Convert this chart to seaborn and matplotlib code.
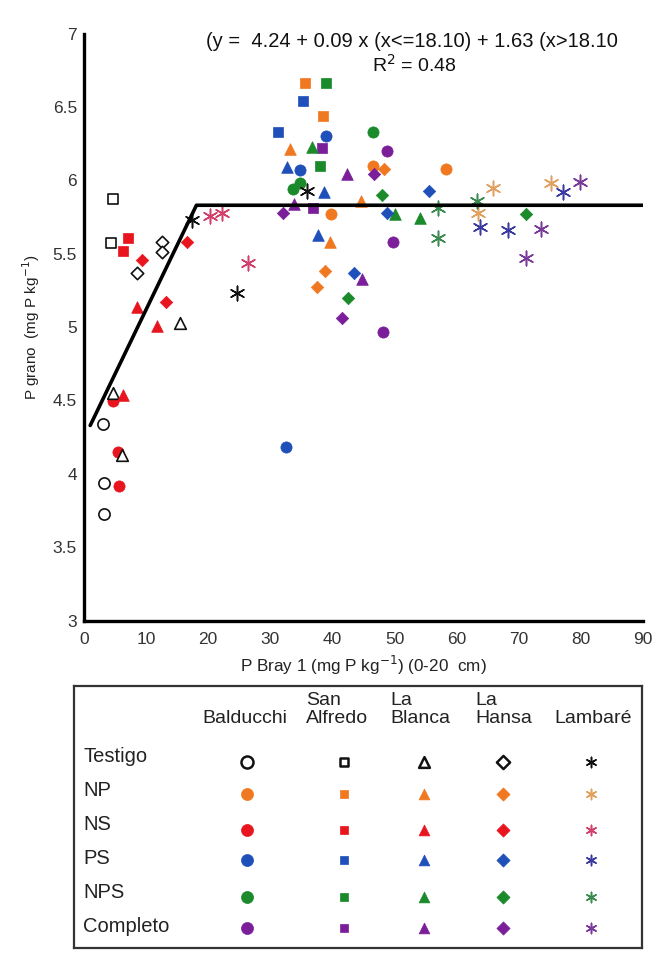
import matplotlib
matplotlib.use("Agg")
import matplotlib.pyplot as plt
import seaborn as sns
import pandas as pd

sns.set_theme(style="white")
plt.rcParams['font.family'] = ['Liberation Sans', 'DejaVu Sans']

# ---------------- data ----------------
sites = ["Balducchi", "San Alfredo", "La Blanca", "La Hansa", "Lambaré"]
site_headers = ["Balducchi", "San\nAlfredo", "La\nBlanca", "La\nHansa", "Lambaré"]
treatments = ["Testigo", "NP", "NS", "PS", "NPS", "Completo"]

bal_trt = ["Testigo"]*3 + ["NP"]*3 + ["NS"]*3 + ["PS"]*3 + ["NPS"]*3 + ["Completo"]*3
bal_x = [3.1, 3.2, 3.2, 39.8, 46.5, 58.3, 4.7, 5.5, 5.6, 39.0, 34.8, 32.5, 33.7, 34.8, 46.5, 48.8, 49.8, 48.1]
bal_y = [4.34, 3.94, 3.73, 5.77, 6.10, 6.08, 4.50, 4.15, 3.92, 6.30, 6.07, 4.18, 5.94, 5.98, 6.33, 6.20, 5.58, 4.97]

sal_trt = ["Testigo"]*2 + ["NP"]*2 + ["NS"]*2 + ["PS"]*2 + ["NPS"]*2 + ["Completo"]*2
sal_x = [4.7, 4.3, 35.6, 38.5, 7.1, 6.3, 35.3, 31.2, 39.0, 38.0, 38.3, 36.9]
sal_y = [5.87, 5.57, 6.66, 6.44, 5.61, 5.52, 6.54, 6.33, 6.66, 6.10, 6.22, 5.81]

lbl_trt = ["Testigo"]*3 + ["NP"]*3 + ["NS"]*3 + ["PS"]*3 + ["NPS"]*3 + ["Completo"]*3
lbl_x = [15.5, 4.7, 6.1, 33.2, 44.6, 39.6, 8.5, 11.8, 6.3, 32.7, 38.6, 37.7, 36.7, 50.1, 54.1, 42.3, 33.8, 44.8]
lbl_y = [5.03, 4.55, 4.13, 6.21, 5.86, 5.58, 5.14, 5.01, 4.54, 6.09, 5.92, 5.63, 6.23, 5.77, 5.74, 6.04, 5.84, 5.33]

lha_trt = ["Testigo"]*3 + ["NP"]*3 + ["NS"]*3 + ["PS"]*3 + ["NPS"]*3 + ["Completo"]*3
lha_x = [12.6, 12.6, 8.5, 48.3, 38.8, 37.5, 9.3, 13.2, 16.6, 55.6, 48.8, 43.5, 48.0, 71.2, 42.5, 46.7, 32.0, 41.5]
lha_y = [5.58, 5.51, 5.37, 6.08, 5.38, 5.27, 5.46, 5.17, 5.58, 5.93, 5.78, 5.37, 5.90, 5.77, 5.20, 6.04, 5.78, 5.06]

lam_trt = ["Testigo"]*3 + ["NP"]*3 + ["NS"]*3 + ["PS"]*3 + ["NPS"]*3 + ["Completo"]*3
lam_x = [35.9, 24.6, 17.4, 65.9, 75.2, 63.5, 20.3, 22.2, 26.4, 77.1, 63.8, 68.2, 63.3, 57.0, 57.0, 79.9, 73.6, 71.2]
lam_y = [5.93, 5.23, 5.73, 5.95, 5.98, 5.78, 5.76, 5.78, 5.44, 5.92, 5.68, 5.66, 5.86, 5.81, 5.61, 5.99, 5.67, 5.47]

fit_x = [1.0, 18.1, 90.0]
fit_y = [4.33, 5.83, 5.83]
equation = "(y =  4.24 + 0.09 x (x<=18.10) + 1.63 (x>18.10"
r2_text = "R$^2$ = 0.48"

x_ticks = [0, 10, 20, 30, 40, 50, 60, 70, 80, 90]
y_ticks = [3, 3.5, 4, 4.5, 5, 5.5, 6, 6.5, 7]
y_tick_labels = ["3", "3.5", "4", "4.5", "5", "5.5", "6", "6.5", "7"]

# ---------------- styles ----------------
site_marker = {"Balducchi": "o", "San Alfredo": "s", "La Blanca": "^",
               "La Hansa": "D", "Lambaré": (6, 2, 0)}
site_size = {"Balducchi": 65, "San Alfredo": 60, "La Blanca": 70,
             "La Hansa": 40, "Lambaré": 110}
legend_size = {"Balducchi": 75, "San Alfredo": 35, "La Blanca": 60,
               "La Hansa": 45, "Lambaré": 55}
trt_color = {"Testigo": "#111111", "NP": "#F07820", "NS": "#E8141E",
             "PS": "#1F4FB8", "NPS": "#1A8A2A", "Completo": "#7A1F99"}
ast_color = {"Testigo": "#111111", "NP": "#E0A060", "NS": "#D0406A",
             "PS": "#3A3AA0", "NPS": "#3A8A50", "Completo": "#7A3A9A"}

frames = []
for s, t, xs, ys in [("Balducchi", bal_trt, bal_x, bal_y),
                     ("San Alfredo", sal_trt, sal_x, sal_y),
                     ("La Blanca", lbl_trt, lbl_x, lbl_y),
                     ("La Hansa", lha_trt, lha_x, lha_y),
                     ("Lambaré", lam_trt, lam_x, lam_y)]:
    frames.append(pd.DataFrame({"site": s, "trt": t, "x": xs, "y": ys}))
df = pd.concat(frames, ignore_index=True)

fig = plt.figure(figsize=(6.64, 9.6), dpi=100)
fig.patch.set_facecolor("white")
ax = fig.add_axes([84/664, 1-620.7/960, (643-84)/664, (620.7-33.5)/960])


def style_kw(site, trt, size):
    kw = dict(marker=site_marker[site], s=size, zorder=3, legend=False)
    if site == "Lambaré":
        kw.update(color=ast_color[trt], edgecolor=ast_color[trt], linewidth=1.1)
    elif trt == "Testigo":
        kw.update(facecolor="white", edgecolor="#111111", linewidth=1.2)
    else:
        kw.update(color=trt_color[trt], edgecolor=trt_color[trt], linewidth=0.5)
    return kw


for site in sites:
    for trt in treatments:
        sub = df[(df.site == site) & (df.trt == trt)]
        sns.scatterplot(data=sub, x="x", y="y", ax=ax, **style_kw(site, trt, site_size[site]))

sns.lineplot(x=fit_x, y=fit_y, ax=ax, color="black", linewidth=2.6, zorder=4,
             estimator=None, sort=False)

ax.set_xlim(0, 90)
ax.set_ylim(3, 7)
ax.set_xticks(x_ticks)
ax.set_yticks(y_ticks)
ax.set_yticklabels(y_tick_labels)
for side in ["top", "right"]:
    ax.spines[side].set_visible(False)
for side in ["left", "bottom"]:
    ax.spines[side].set_color("black")
    ax.spines[side].set_linewidth(2.4)
ax.tick_params(axis="both", direction="out", length=3, width=2.2, color="black",
               labelsize=12.5, labelcolor="#333333")
ax.tick_params(axis="y", pad=2)
ax.tick_params(axis="x", pad=5)
ax.set_xlabel("P Bray 1 (mg P kg$^{-1}$) (0-20  cm)", fontsize=12.3, color="#222222", labelpad=5)
ax.set_ylabel("P grano  (mg P kg$^{-1}$)", fontsize=11, color="#222222", labelpad=8)
ax.set_facecolor("white")
ax.text(0.587, 0.987, equation, transform=ax.transAxes, ha="center", va="center",
        fontsize=14.5, color="#111111")
ax.text(0.592, 0.946, r2_text, transform=ax.transAxes, ha="center", va="center",
        fontsize=14, color="#111111")

# ---------------- legend table ----------------
lx0, lx1, ly0, ly1 = 74, 642, 686, 948
lax = fig.add_axes([lx0/664, 1-ly1/960, (lx1-lx0)/664, (ly1-ly0)/960])
lax.set_xlim(lx0, lx1)
lax.set_ylim(ly1, ly0)
lax.set_xticks([])
lax.set_yticks([])
for sp in lax.spines.values():
    sp.set_visible(True)
    sp.set_color("#333333")
    sp.set_linewidth(1.6)

col_x = [247, 344, 424, 503, 591]
header_x = [245, 306, 390, 475, 593]
header_ha = ["center", "left", "left", "left", "center"]
row_label_y = [757, 790, 824, 859, 893, 927]
row_marker_y = [762, 794, 830, 860, 897, 928]

for i, h in enumerate(site_headers):
    lax.text(header_x[i], 723, h, ha=header_ha[i], va="baseline",
             fontsize=14, color="#222222", linespacing=1.05)
for j, trt in enumerate(treatments):
    lax.text(83, row_label_y[j], trt, ha="left", va="center", fontsize=14.5, color="#222222")
    for i, site in enumerate(sites):
        kw = style_kw(site, trt, legend_size[site])
        if trt == "Testigo" and site != "Lambaré":
            kw["linewidth"] = 1.8
        sns.scatterplot(x=[col_x[i]], y=[row_marker_y[j]], ax=lax, **kw)
lax.set_xlabel("")
lax.set_ylabel("")

fig.savefig("out.png", dpi=100, facecolor="white")
